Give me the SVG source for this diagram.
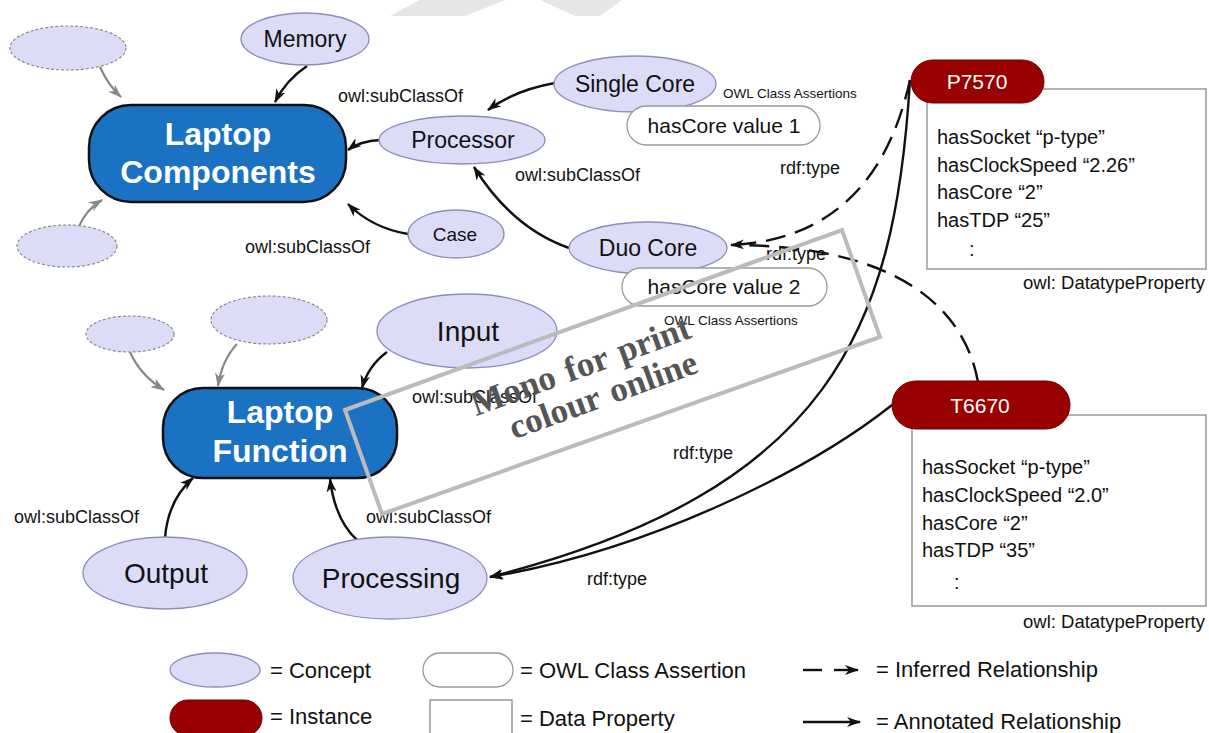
<svg xmlns="http://www.w3.org/2000/svg" width="1209" height="733" viewBox="0 0 1209 733">
<style>
text{font-family:"Liberation Sans",Arial,sans-serif;fill:#111}
.concept{fill:#dcdcf7;stroke:#8c8cbf;stroke-width:1.3}
.ghost{fill:#dcdcf7;stroke:#8a8a8a;stroke-width:1.2;stroke-dasharray:3 2}
.main{fill:#1b72c2;stroke:#111;stroke-width:2.5}
.mainT{fill:#fff;font-weight:bold;font-size:32px;text-anchor:middle}
.assert{fill:#fff;stroke:#999;stroke-width:1.3}
.inst{fill:#990000;stroke:#6a0000;stroke-width:1}
.instT{fill:#fff;font-size:21px;text-anchor:middle}
.dbox{fill:#fff;stroke:#999;stroke-width:1.5}
.dT{font-size:20px}
.nT{font-size:23px;text-anchor:middle}
.lbl{font-size:18px}
.small{font-size:13.5px}
.leg{font-size:22px}
.solid{fill:none;stroke:#111;stroke-width:2.4}
.dash{fill:none;stroke:#111;stroke-width:2.4;stroke-dasharray:20 10}
.grey{fill:none;stroke:#888;stroke-width:2.2}
.wm{font-family:"Liberation Serif","Times New Roman",serif;font-weight:bold;font-size:35px;fill:#555;word-spacing:3px;text-anchor:middle}
</style>
<defs>
<marker id="ah" viewBox="0 0 14 10" refX="13" refY="5" markerWidth="14" markerHeight="10" orient="auto" markerUnits="userSpaceOnUse"><path d="M0,0 L14,5 L0,10 L4,5 Z" fill="#111"/></marker>
<marker id="ahg" viewBox="0 0 14 10" refX="13" refY="5" markerWidth="14" markerHeight="10" orient="auto" markerUnits="userSpaceOnUse"><path d="M0,0 L14,5 L0,10 L4,5 Z" fill="#888"/></marker>
</defs>
<rect width="1209" height="733" fill="#fff"/>
<g id="bg-mark" fill="#e6e6e6">
<polygon points="390,16 420,0 505,0 465,16"/>
<polygon points="540,0 622,0 600,16 575,16"/>
</g>

<g id="connectors">
<path class="grey" d="M100 67 Q108 85 121 97" marker-end="url(#ahg)"/>
<path class="grey" d="M78 229 Q85 210 102 200" marker-end="url(#ahg)"/>
<path class="solid" d="M307 66 Q286 80 275 102" marker-end="url(#ah)"/>
<path class="solid" d="M555 83 Q515 90 488 110" marker-end="url(#ah)"/>
<path class="solid" d="M380 140 Q360 141 348 150" marker-end="url(#ah)"/>
<path class="solid" d="M408 234 Q372 228 348 204" marker-end="url(#ah)"/>
<path class="solid" d="M569 248 Q512 228 474 167" marker-end="url(#ah)"/>
<path class="solid" d="M387 352 Q368 366 362 388" marker-end="url(#ah)"/>
<path class="grey" d="M130 352 Q140 375 164 390" marker-end="url(#ahg)"/>
<path class="grey" d="M237 344 Q222 360 218 386" marker-end="url(#ahg)"/>
<path class="solid" d="M165 538 Q168 500 193 478" marker-end="url(#ah)"/>
<path class="solid" d="M357 540 Q335 520 330 479" marker-end="url(#ah)"/>
<path class="solid" d="M910 80 C895 330 830 490 490 577" marker-end="url(#ah)"/>
<path class="solid" d="M892 405 C810 470 650 550 490 577" marker-end="url(#ah)"/>
<path class="dash" d="M910 80 C890 170 840 240 731 245" marker-end="url(#ah)"/>
<path class="dash" d="M978 382 C965 310 900 245 731 245"/>
<text class="lbl" x="338" y="102">owl:subClassOf</text>
<text class="lbl" x="515" y="181">owl:subClassOf</text>
<text class="lbl" x="245" y="253">owl:subClassOf</text>
<text class="lbl" x="412" y="403">owl:subClassOf</text>
<text class="lbl" x="14" y="523">owl:subClassOf</text>
<text class="lbl" x="366" y="523">owl:subClassOf</text>
<text class="lbl" x="780" y="174">rdf:type</text>
<text class="lbl" x="766" y="260">rdf:type</text>
<text class="lbl" x="673" y="459">rdf:type</text>
<text class="lbl" x="587" y="585">rdf:type</text>
</g>

<g id="ghost1"><ellipse class="ghost" cx="68" cy="48" rx="58" ry="22"/></g>
<g id="ghost2"><ellipse class="ghost" cx="67" cy="246" rx="50" ry="21"/></g>
<g id="ghost3"><ellipse class="ghost" cx="130" cy="334" rx="44" ry="18"/></g>
<g id="ghost4"><ellipse class="ghost" cx="269" cy="320" rx="58" ry="24"/></g>

<g id="laptop-components">
<rect class="main" x="89" y="105" width="257" height="97" rx="42"/>
<text class="mainT" x="218" y="145">Laptop</text>
<text class="mainT" x="218" y="183">Components</text>
</g>
<g id="laptop-function">
<rect class="main" x="163" y="388" width="234" height="90" rx="40"/>
<text class="mainT" x="280" y="423">Laptop</text>
<text class="mainT" x="280" y="462">Function</text>
</g>

<g id="memory"><ellipse class="concept" cx="305" cy="39" rx="64" ry="26"/><text class="nT" x="305" y="47">Memory</text></g>
<g id="single-core"><ellipse class="concept" cx="635" cy="84" rx="81" ry="28"/><text class="nT" x="635" y="92">Single Core</text></g>
<g id="assert1">
<rect class="assert" x="627" y="106" width="193" height="39" rx="19.5"/>
<text x="724" y="133" font-size="21" text-anchor="middle">hasCore value 1</text>
<text class="small" x="723" y="98">OWL Class Assertions</text>
</g>
<g id="processor"><ellipse class="concept" cx="462" cy="140" rx="83" ry="24"/><text class="nT" x="463" y="148">Processor</text></g>
<g id="case"><ellipse class="concept" cx="456" cy="234" rx="48" ry="24"/><text x="455" y="241" font-size="19" text-anchor="middle">Case</text></g>
<g id="duo-core"><ellipse class="concept" cx="648" cy="248" rx="79" ry="26"/><text class="nT" x="648" y="256">Duo Core</text></g>
<g id="assert2">
<rect class="assert" x="622" y="268" width="205" height="38" rx="19"/>
<text x="724" y="294" font-size="21" text-anchor="middle">hasCore value 2</text>
<text class="small" x="664" y="325">OWL Class Assertions</text>
</g>
<g id="input"><ellipse class="concept" cx="467" cy="331" rx="90" ry="37"/><text class="nT" x="468" y="341" style="font-size:28px">Input</text></g>
<g id="output"><ellipse class="concept" cx="165" cy="573" rx="82" ry="36"/><text class="nT" x="166" y="583" style="font-size:28px">Output</text></g>
<g id="processing"><ellipse class="concept" cx="390" cy="578" rx="97" ry="41"/><text class="nT" x="391" y="588" style="font-size:28px">Processing</text></g>

<g id="p7570">
<rect class="dbox" x="927" y="89" width="279" height="180"/>
<rect class="inst" x="911" y="60" width="133" height="43" rx="21.5"/>
<text class="instT" x="977" y="89">P7570</text>
<text class="dT" x="937" y="144">hasSocket “p-type”</text>
<text class="dT" x="937" y="172">hasClockSpeed “2.26”</text>
<text class="dT" x="937" y="199">hasCore “2”</text>
<text class="dT" x="937" y="227">hasTDP “25”</text>
<text class="dT" x="969" y="256">:</text>
<text x="1205" y="289" font-size="18.5" text-anchor="end">owl: DatatypeProperty</text>
</g>
<g id="t6670">
<rect class="dbox" x="912" y="415" width="294" height="191"/>
<rect class="inst" x="892" y="381" width="178" height="48" rx="24"/>
<text class="instT" x="980" y="413">T6670</text>
<text class="dT" x="922" y="474">hasSocket “p-type”</text>
<text class="dT" x="922" y="502">hasClockSpeed “2.0”</text>
<text class="dT" x="922" y="530">hasCore “2”</text>
<text class="dT" x="922" y="557">hasTDP “35”</text>
<text class="dT" x="954" y="589">:</text>
<text x="1205" y="628" font-size="18.5" text-anchor="end">owl: DatatypeProperty</text>
</g>

<g id="legend">
<ellipse class="concept" cx="215" cy="670" rx="45" ry="17"/>
<text class="leg" x="270" y="678">= Concept</text>
<rect class="assert" x="423" y="653" width="90" height="34" rx="17"/>
<text class="leg" x="520" y="678">= OWL Class Assertion</text>
<line x1="803" y1="670" x2="822" y2="670" stroke="#111" stroke-width="2.4"/>
<line x1="834" y1="670" x2="858" y2="670" stroke="#111" stroke-width="2.4" marker-end="url(#ah)"/>
<text class="leg" x="876" y="677">= Inferred Relationship</text>
<rect class="inst" x="170" y="700" width="92" height="36" rx="18"/>
<text class="leg" x="270" y="724">= Instance</text>
<rect class="dbox" x="430" y="700" width="82" height="40"/>
<text class="leg" x="520" y="726">= Data Property</text>
<line x1="803" y1="722" x2="860" y2="722" stroke="#111" stroke-width="2.4" marker-end="url(#ah)"/>
<text class="leg" x="876" y="729">= Annotated Relationship</text>
</g>

<g id="watermark">
<polygon points="345,410 842,230 880,337 382,514" fill="none" stroke="#bbb" stroke-width="4"/>
<g transform="translate(590,380) rotate(-20)">
<text class="wm" x="-4" y="-5">Mono for print</text>
<text class="wm" x="7" y="30">colour online</text>
</g>
</g>
</svg>
